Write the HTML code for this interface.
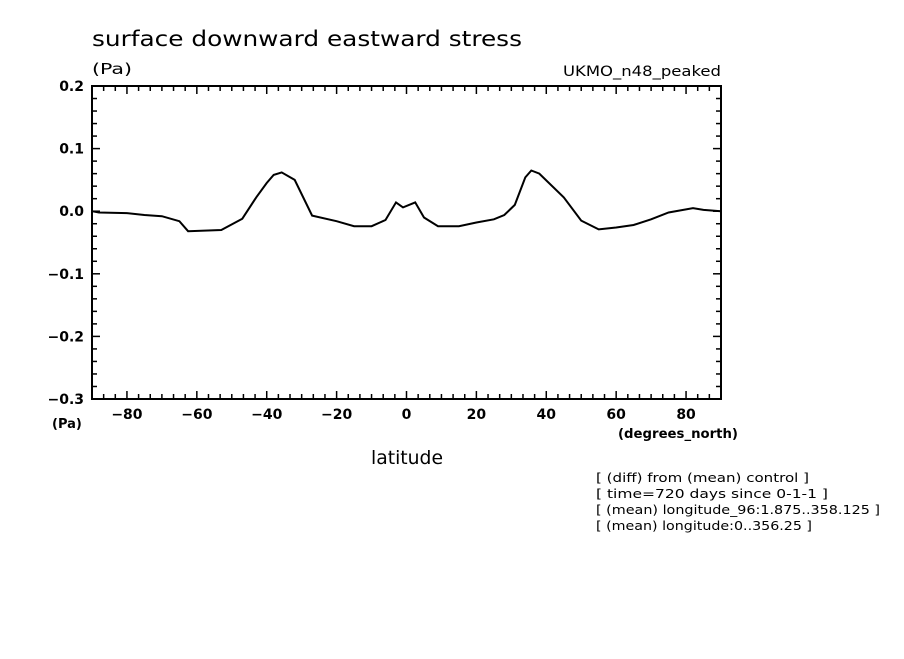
<!DOCTYPE html>
<html><head><meta charset="utf-8"><style>
body{margin:0;background:#fff;}
svg text{font-family:"DejaVu Sans","Liberation Sans",sans-serif;fill:#000;}
</style></head><body>
<svg id="c" width="904" height="654" viewBox="0 0 904 654">
<text x="92" y="46" font-size="21" textLength="430" lengthAdjust="spacingAndGlyphs">surface downward eastward stress</text>
<text x="92" y="74" font-size="15" textLength="40" lengthAdjust="spacingAndGlyphs">(Pa)</text>
<text x="563" y="76" font-size="14" textLength="158" lengthAdjust="spacingAndGlyphs">UKMO_n48_peaked</text>
<rect x="92" y="86" width="629" height="313" fill="none" stroke="#000" stroke-width="2"/>
<g id="ticks"></g>
<path id="line" fill="none" stroke="#000" stroke-width="2"/>
<text x="52" y="428" font-size="13" font-weight="bold">(Pa)</text>
<text x="618" y="438" font-size="13" font-weight="bold" textLength="120" lengthAdjust="spacingAndGlyphs">(degrees_north)</text>
<text x="371" y="464" font-size="19" textLength="72" lengthAdjust="spacingAndGlyphs">latitude</text>
<g font-size="12">
<text x="596" y="482" textLength="213" lengthAdjust="spacingAndGlyphs">[ (diff) from (mean) control ]</text>
<text x="596" y="498" textLength="232" lengthAdjust="spacingAndGlyphs">[ time=720 days since 0-1-1 ]</text>
<text x="596" y="514" textLength="284" lengthAdjust="spacingAndGlyphs">[ (mean) longitude_96:1.875..358.125 ]</text>
<text x="596" y="530" textLength="216" lengthAdjust="spacingAndGlyphs">[ (mean) longitude:0..356.25 ]</text>
</g>
</svg>
<script>
const lats=[-90,-88,-80,-75,-70,-65,-62.5,-53,-47,-43,-40,-38,-35.7,-32,-27,-20,-15,-10,-6,-3,-1,2.5,5,9,15,20,25,28,31,34,35.7,38,45,50,55,60,65,70,75,82,85,90];
const vals=[0,-0.002,-0.003,-0.006,-0.008,-0.016,-0.032,-0.030,-0.012,0.022,0.045,0.058,0.062,0.05,-0.007,-0.016,-0.024,-0.024,-0.014,0.014,0.006,0.014,-0.01,-0.024,-0.024,-0.018,-0.013,-0.006,0.01,0.054,0.065,0.06,0.022,-0.015,-0.029,-0.026,-0.022,-0.013,-0.002,0.005,0.002,0];
const xTicks=[-80,-60,-40,-20,0,20,40,60,80];
const yTicks=[0.2,0.1,0.0,-0.1,-0.2,-0.3];
const yLabels=["0.2","0.1","0.0","\u22120.1","\u22120.2","\u22120.3"];
const X=v=>92+(v+90)/180*629, Y=v=>86+(0.2-v)/0.5*313;
const NS="http://www.w3.org/2000/svg";
const svg=document.getElementById('c'), g=document.getElementById('ticks');
function ln(x1,y1,x2,y2){const l=document.createElementNS(NS,'line');l.setAttribute('x1',x1);l.setAttribute('y1',y1);l.setAttribute('x2',x2);l.setAttribute('y2',y2);l.setAttribute('stroke','#000');l.setAttribute('stroke-width','1.5');


g.appendChild(l);}
function tx(x,y,s,a){const t=document.createElementNS(NS,'text');t.setAttribute('x',x);t.setAttribute('y',y);t.setAttribute('font-size','14');t.setAttribute('font-weight','bold');t.setAttribute('text-anchor',a);t.textContent=s;


g.appendChild(t);}
for(let i=0;i<=54;i++){const v=-90+i*10/3;const x=X(v);const L=(i%6===3)?8:5;ln(x,86,x,86+L);ln(x,399,x,399-L);}
for(let i=0;i<=25;i++){const v=0.2-i*0.02;const y=Y(v);const L=(i%5===0)?8:5;ln(92,y,92+L,y);ln(721,y,721-L,y);}
xTicks.forEach(v=>tx(X(v),419,v<0?"\u2212"+(-v):String(v),'middle'));
yTicks.forEach((v,i)=>tx(84,Y(v)+5,yLabels[i],'end'));
document.getElementById('line').setAttribute('d',lats.map((l,i)=>(i?'L':'M')+X(l).toFixed(1)+','+Y(vals[i]).toFixed(1)).join(''));
</script>
</body></html>
